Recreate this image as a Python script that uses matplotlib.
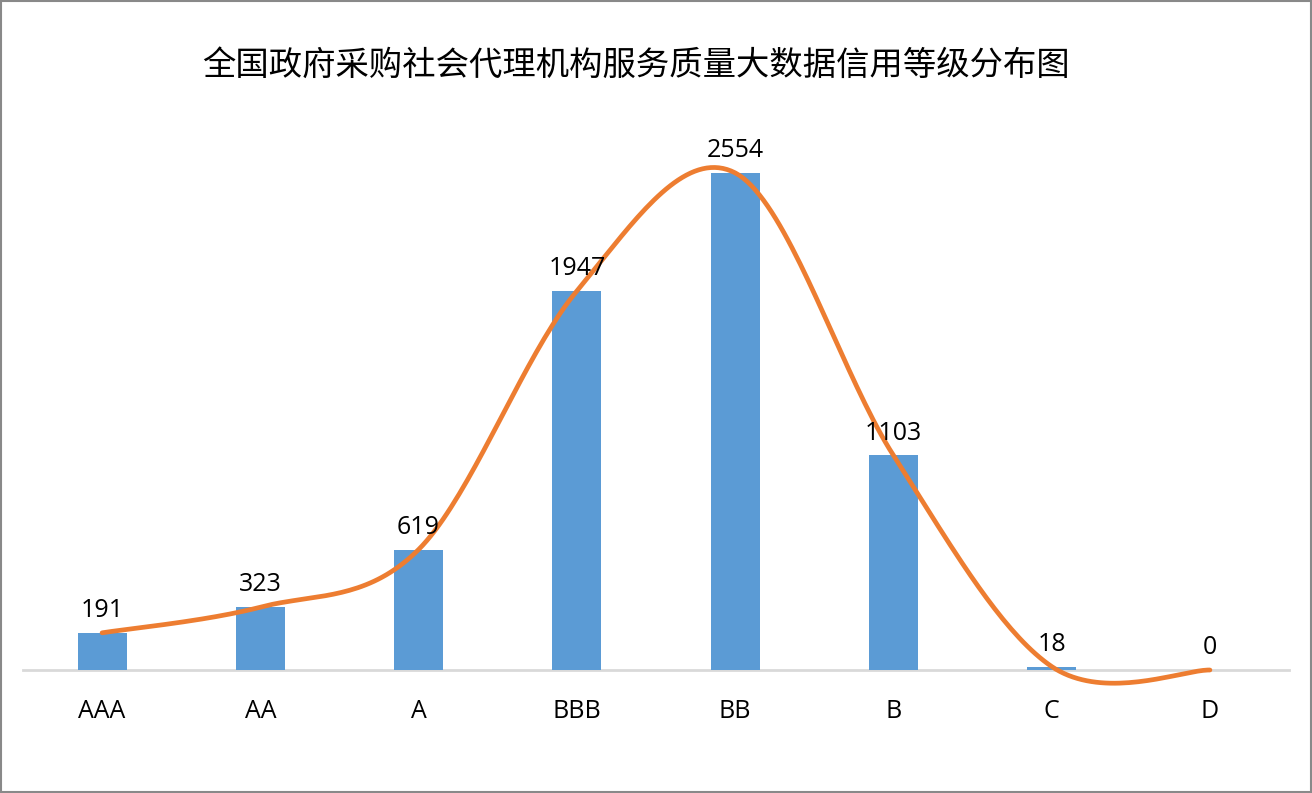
import numpy as np
import matplotlib.pyplot as plt
from matplotlib.patches import Rectangle

plt.rcParams["font.family"] = ["Noto Sans CJK SC", "DejaVu Sans"]

title = "全国政府采购社会代理机构服务质量大数据信用等级分布图"
grades = ["AAA", "AA", "A", "BBB", "BB", "B", "C", "D"]
counts = [191, 323, 619, 1947, 2554, 1103, 18, 0]

BAR_COLOR = "#5B9BD5"
LINE_COLOR = "#ED7D31"
LATIN = ["Open Sans", "DejaVu Sans"]


def smooth_curve(x, y, steps=40):
    # Excel-style smoothed line: Catmull-Rom through every point
    x = np.asarray(x, float)
    y = np.asarray(y, float)
    px = np.concatenate([[x[0]], x, [x[-1]]])
    py = np.concatenate([[y[0]], y, [y[-1]]])
    xs, ys = [], []
    t = np.linspace(0, 1, steps)
    for i in range(1, len(px) - 2):
        for p, out in ((px, xs), (py, ys)):
            p0, p1, p2, p3 = p[i - 1], p[i], p[i + 1], p[i + 2]
            c1 = p1 + (p2 - p0) / 6
            c2 = p2 - (p3 - p1) / 6
            out.extend((1 - t) ** 3 * p1 + 3 * (1 - t) ** 2 * t * c1
                       + 3 * (1 - t) * t ** 2 * c2 + t ** 3 * p2)
    return np.array(xs), np.array(ys)


fig = plt.figure(figsize=(13.12, 7.93), dpi=100)
ax = fig.add_axes([0.0175, 0.1551, 0.965, 0.7364])

pos = np.arange(len(grades))
ax.bar(pos, counts, width=0.31, color=BAR_COLOR, zorder=2)

sx, sy = smooth_curve(pos, counts)
ax.plot(sx, sy, color=LINE_COLOR, lw=3.4, solid_capstyle="round",
        clip_on=False, zorder=3)

for p, v in zip(pos, counts):
    ax.annotate(str(v), (p, v), xytext=(0, 7), textcoords="offset points",
                ha="center", va="bottom", fontsize=18, family=LATIN,
                color="black")

ax.set_xlim(-0.5, len(grades) - 0.5)
ax.set_ylim(0, 3000)
ax.set_xticks(pos)
ax.set_xticklabels(grades, fontsize=18, family=LATIN)
ax.set_yticks([])
ax.tick_params(axis="x", length=0, pad=21)
for side in ("top", "right", "left"):
    ax.spines[side].set_visible(False)
ax.spines["bottom"].set_color("#D9D9D9")
ax.spines["bottom"].set_linewidth(2)
ax.spines["bottom"].set_zorder(1)

fig.text(0.485, 0.918, title, ha="center", va="center", fontsize=24.0)

fig.patches.append(Rectangle((0.001, 0.0015), 0.998, 0.997,
                             transform=fig.transFigure, fill=False,
                             edgecolor="#898989", lw=1.5))

fig.savefig("out.png", dpi=100)
